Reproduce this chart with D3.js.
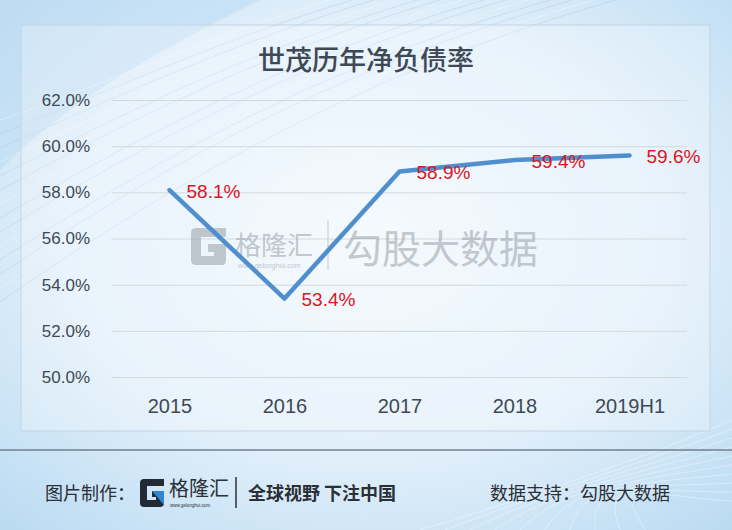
<!DOCTYPE html>
<html><head><meta charset="utf-8">
<script src="https://cdn.jsdelivr.net/npm/d3@7"></script>
<style>html,body{margin:0;padding:0;background:#dcecf9;}svg{display:block;}</style>
</head><body>
<svg id="c" width="732" height="530"></svg>
<script>
const title = "世茂历年净负债率";
const categories = ["2015", "2016", "2017", "2018", "2019H1"];
const netDebtRatio = [58.1, 53.4, 58.9, 59.4, 59.6];
const yTicks = [50, 52, 54, 56, 58, 60, 62];

const svg = d3.select("#c");
const W = 732, H = 530;
const defs = svg.append("defs");
const bg = defs.append("radialGradient").attr("id","bg").attr("cx","0.5").attr("cy","0.45").attr("r","0.75");
bg.append("stop").attr("offset","0").attr("stop-color","#f1f8fe");
bg.append("stop").attr("offset","0.55").attr("stop-color","#e1effa");
bg.append("stop").attr("offset","1").attr("stop-color","#b9daf2");
svg.append("rect").attr("width",W).attr("height",H).attr("fill","url(#bg)");

// decorative background curves (top-left and bottom-right)
const deco = svg.append("g").attr("fill","none");
deco.append("path").attr("d","M0,0 L260,0 C180,40 80,90 0,170 Z").attr("fill","#b5d8f2").attr("opacity",0.45);
for (let i = 0; i < 14; i++) {
  deco.append("path")
    .attr("d", `M0,${120 + i*14} C${90+i*8},${90 + i*6} ${200+i*14},${40+i*2} ${330 + i*22},0`)
    .attr("stroke", i % 3 === 0 ? "#ffffff" : "#9dc2e0").attr("stroke-width",0.7).attr("opacity",0.45);
}
for (let i = 0; i < 10; i++) {
  deco.append("path")
    .attr("d", `M${420 + i*25},${H} C${520+i*10},${500 - i*3} ${640},${460 + i*4} ${W},${420 + i*9}`)
    .attr("stroke", "#ffffff").attr("stroke-width",0.7).attr("opacity",0.5);
}

// chart frame
svg.append("rect").attr("x",21).attr("y",25).attr("width",689).attr("height",406)
  .attr("fill","#ffffff").attr("fill-opacity",0.25).attr("stroke","#c3d3e2").attr("stroke-width",1);

svg.append("text").attr("x",366).attr("y",58).attr("text-anchor","middle").attr("dominant-baseline","central")
  .attr("font-family","'Noto Sans CJK SC', sans-serif").attr("font-weight",500).attr("font-size",27)
  .attr("fill","#3e4955").text(title);

const x = d3.scalePoint().domain(categories).range([112, 687]).padding(0.5);
const y = d3.scaleLinear().domain([50, 62]).range([377, 100]);

const yAxis = svg.append("g").attr("transform","translate(112,0)")
  .call(d3.axisLeft(y).tickValues(yTicks).tickFormat(d => d.toFixed(1) + "%")
    .tickSizeInner(-575).tickSizeOuter(0).tickPadding(22));
yAxis.select(".domain").remove();
yAxis.selectAll(".tick line").attr("stroke","#d3d8dd").attr("stroke-width",1);
yAxis.selectAll(".tick text").attr("font-family","'Liberation Sans', Arial, sans-serif")
  .attr("font-size",17).attr("fill","#3f4954");

const xAxis = svg.append("g").attr("transform","translate(0,377)")
  .call(d3.axisBottom(x).tickSize(0).tickPadding(22));
xAxis.select(".domain").remove();
xAxis.selectAll(".tick text").attr("font-family","'Liberation Sans', Arial, sans-serif")
  .attr("font-size",20).attr("fill","#3f4954");

// watermark
const wm = svg.append("g").attr("opacity",0.55);
wm.append("path").attr("d","M226,232 L226,228 Q226,228 222,228 L196,228 Q191,228 191,233 L191,260 Q191,265 196,265 L222,265 Q226,265 226,260 L226,244 L208,244 L208,252 L214,252 L214,256 L201,256 L201,237 L226,237 Z")
  .attr("fill","#9aa1a8");
wm.append("text").attr("x",235).attr("y",243).attr("dominant-baseline","central")
  .attr("font-family","'Noto Sans CJK SC', sans-serif").attr("font-size",26).attr("fill","#9aa1a8").text("格隆汇");
wm.append("text").attr("x",238).attr("y",265).attr("dominant-baseline","central")
  .attr("font-family","'Liberation Sans', Arial, sans-serif").attr("font-size",7).attr("fill","#9aa1a8").text("www.gelonghui.com");
wm.append("line").attr("x1",328).attr("x2",328).attr("y1",220).attr("y2",270).attr("stroke","#9aa1a8").attr("stroke-width",1);
wm.append("text").attr("x",343).attr("y",246).attr("dominant-baseline","central")
  .attr("font-family","'Noto Sans CJK SC', sans-serif").attr("font-size",39).attr("fill","#9aa1a8").text("勾股大数据");

// line
const line = d3.line().x((d,i) => x(categories[i])).y(d => y(d));
svg.append("path").datum(netDebtRatio).attr("d", line)
  .attr("fill","none").attr("stroke","#4f8fcd").attr("stroke-width",4.5)
  .attr("stroke-linejoin","round").attr("stroke-linecap","round");

svg.append("g").selectAll("text").data(netDebtRatio).join("text")
  .attr("x",(d,i) => x(categories[i]) + 17).attr("y", d => y(d) + 1)
  .attr("dominant-baseline","central")
  .attr("font-family","'Liberation Sans', Arial, sans-serif").attr("font-size",19)
  .attr("fill","#dc1424").text(d => d.toFixed(1) + "%");

// footer
svg.append("line").attr("x1",0).attr("x2",W).attr("y1",450).attr("y2",450).attr("stroke","#6f8092").attr("stroke-width",1.3);
const ft = svg.append("g").attr("font-family","'Noto Sans CJK SC', sans-serif").attr("fill","#2b2f36");
ft.append("text").attr("x",45).attr("y",492).attr("dominant-baseline","central").attr("font-size",18).text("图片制作：");
ft.append("path").attr("d","M164,481 L164,479 L144,479 Q140,479 140,483 L140,503 Q140,507 144,507 L160,507 Q164,507 164,503 L164,491 L152,491 L152,497 L156,497 L156,500 L147,500 L147,486 L164,486 Z").attr("fill","#222a35");
ft.append("path").attr("d","M152,491 L164,491 L164,505 Z").attr("fill","#2d86d8");
ft.append("text").attr("x",169).attr("y",487).attr("dominant-baseline","central").attr("font-size",20).text("格隆汇");
ft.append("text").attr("x",170).attr("y",505).attr("dominant-baseline","central").attr("font-family","'Liberation Sans', Arial, sans-serif").attr("font-size",4.5).text("www.gelonghui.com");
ft.append("line").attr("x1",236).attr("x2",236).attr("y1",477).attr("y2",508).attr("stroke","#2b2f36").attr("stroke-width",1.5);
ft.append("text").attr("x",248).attr("y",492).attr("dominant-baseline","central").attr("font-size",18).attr("font-weight",700).text("全球视野 下注中国");
ft.append("text").attr("x",490).attr("y",492).attr("dominant-baseline","central").attr("font-size",18).text("数据支持：勾股大数据");
</script>
</body></html>
